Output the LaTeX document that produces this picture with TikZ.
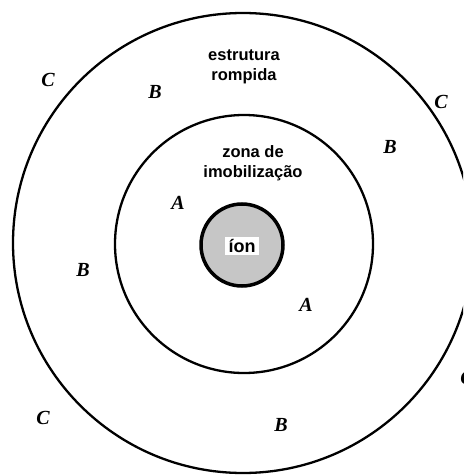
\documentclass[tikz,border=0pt]{standalone}
\usepackage{fontspec}
\setmainfont{Liberation Serif}
\setsansfont{Liberation Sans}
\begin{document}
\begin{tikzpicture}[x=1pt,y=-1pt,
  ring/.style={draw=black,line width=2.3pt},
  zone/.style={font=\sffamily\bfseries\fontsize{16.5}{20}\selectfont,align=center,inner sep=0pt},
  lab/.style={font=\bfseries\itshape\fontsize{20}{20}\selectfont,inner sep=0pt}]
\useasboundingbox (0,0) rectangle (463,476);
\begin{scope}
\clip (0,0) rectangle (463,476);
\draw[ring] (243,243) circle[radius=230];
\end{scope}
\draw[ring] (244,244) circle[radius=129];
\draw[draw=black,line width=3.5pt,fill=gray!45] (242,245) circle[radius=41];
\node[fill=white,inner xsep=4pt,inner ysep=2.5pt,font=\sffamily\bfseries\fontsize{18}{18}\selectfont] (ion) at (242,246) {íon};
\node[zone] (estr) at (244,67) {estrutura\\rompida};
\node[zone] (zona) at (253,163) {zona de\\imobilização};
\node[lab] (c1) at (48,80) {C};
\node[lab] (c2) at (441,102) {C};
\node[lab] (c3) at (43,418) {C};
\node[lab] (c4) at (467,378) {C};
\node[lab] (b1) at (155,92) {B};
\node[lab] (b2) at (390,147) {B};
\node[lab] (b3) at (83,270) {B};
\node[lab] (b4) at (281,425) {B};
\node[lab] (a1) at (178,203) {A};
\node[lab] (a2) at (306,305) {A};
\end{tikzpicture}
\end{document}
